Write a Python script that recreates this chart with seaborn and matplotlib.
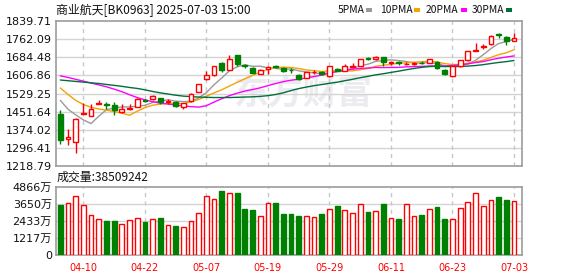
import matplotlib
matplotlib.use("Agg")
import matplotlib.pyplot as plt
from matplotlib.patches import Rectangle
import numpy as np
import pandas as pd
import seaborn as sns

# ---------------- data ----------------
dates = ["04-07", "04-08", "04-09", "04-10", "04-11", "04-14", "04-15", "04-16", "04-17", "04-18",
         "04-21", "04-22", "04-23", "04-24", "04-25", "04-28", "04-29", "04-30", "05-06", "05-07",
         "05-08", "05-09", "05-12", "05-13", "05-14", "05-15", "05-16", "05-19", "05-20", "05-21",
         "05-22", "05-23", "05-26", "05-27", "05-28", "05-29", "05-30", "06-03", "06-04", "06-05",
         "06-06", "06-09", "06-10", "06-11", "06-12", "06-13", "06-16", "06-17", "06-18", "06-19",
         "06-20", "06-23", "06-24", "06-25", "06-26", "06-27", "06-30", "07-01", "07-02", "07-03"]

open_ = [1440, 1333, 1322, 1441, 1433, 1485, 1485, 1482, 1448, 1463,
         1472, 1502, 1505, 1508, 1494, 1494, 1473, 1497, 1537, 1590,
         1607, 1660, 1632, 1694, 1650, 1639, 1614, 1634, 1646, 1637,
         1632, 1608, 1597, 1620, 1621, 1604, 1636, 1627, 1643, 1648,
         1681, 1675, 1684, 1659, 1662, 1654, 1656, 1661, 1661, 1665,
         1630, 1604, 1645, 1672, 1713, 1729, 1741, 1783, 1772, 1756]
high = [1458, 1379, 1426, 1487, 1484, 1501, 1494, 1494, 1484, 1484,
        1508, 1505, 1522, 1512, 1506, 1497, 1490, 1530, 1571, 1625,
        1648, 1662, 1694, 1694, 1656, 1641, 1636, 1645, 1650, 1642,
        1640, 1612, 1621, 1628, 1626, 1647, 1638, 1655, 1661, 1678,
        1687, 1688, 1686, 1667, 1667, 1663, 1665, 1670, 1677, 1668,
        1635, 1646, 1674, 1712, 1744, 1741, 1778, 1789, 1774, 1788]
low = [1312, 1307, 1275, 1440, 1431, 1484, 1465, 1436, 1446, 1458,
       1470, 1493, 1503, 1484, 1484, 1472, 1465, 1494, 1535, 1588,
       1605, 1621, 1630, 1647, 1637, 1616, 1612, 1614, 1638, 1620,
       1618, 1586, 1595, 1613, 1607, 1602, 1624, 1625, 1642, 1645,
       1673, 1673, 1646, 1653, 1650, 1650, 1652, 1654, 1658, 1635,
       1607, 1602, 1642, 1670, 1712, 1720, 1739, 1768, 1739, 1754]
close = [1332, 1343, 1419, 1444, 1465, 1488, 1482, 1458, 1465, 1466,
         1504, 1499, 1519, 1494, 1496, 1475, 1489, 1525, 1569, 1607,
         1646, 1632, 1679, 1654, 1647, 1618, 1632, 1643, 1644, 1627,
         1628, 1590, 1620, 1622, 1611, 1645, 1626, 1645, 1648, 1676,
         1678, 1686, 1665, 1662, 1660, 1657, 1659, 1659, 1675, 1637,
         1612, 1645, 1672, 1711, 1717, 1732, 1776, 1780, 1753, 1767]
# volume in 万
volume = [3561, 3751, 4202, 3608, 2896, 2611, 2398, 2398, 2184, 2469,
          2683, 2350, 2611, 2683, 2113, 2065, 1970, 2398, 3039, 4202,
          4036, 4558, 4463, 4416, 3324, 3205, 2778, 3751, 3703, 2968,
          2920, 2778, 2825, 2754, 2968, 3324, 3490, 3252, 3039, 3680,
          3110, 3181, 3680, 2683, 2611, 3680, 2825, 2849, 3324, 3419,
          2564, 2611, 3395, 3822, 4463, 3537, 3965, 4131, 3917, 3851]

# moving averages before a full window exists
ma5_head = [1500, 1462, 1438, 1416]
ma10_head = [1553, 1525, 1500, 1482, 1470, 1463, 1458, 1452, 1445]
ma20_head = [1605, 1598, 1590, 1582, 1574, 1566, 1558, 1548, 1537, 1524,
             1512, 1502, 1494, 1488, 1484, 1480, 1476, 1473, 1471]
ma30_head = [1587, 1584, 1581, 1578, 1575, 1572, 1568, 1564, 1560, 1555,
             1551, 1545, 1538, 1532, 1527, 1522, 1518, 1516, 1514, 1513,
             1512, 1512, 1512, 1513, 1514, 1515, 1517, 1520, 1525]

price_ticks = [1218.79, 1296.41, 1374.02, 1451.64, 1529.25, 1606.86, 1684.48, 1762.09, 1839.71]
price_labels = ["1218.79", "1296.41", "1374.02", "1451.64", "1529.25", "1606.86", "1684.48", "1762.09", "1839.71"]
vol_ticks = [0, 1217, 2433, 3650, 4866]
vol_labels = ["0", "1217万", "2433万", "3650万", "4866万"]
date_tick_labels = ["04-10", "04-22", "05-07", "05-19", "05-29", "06-11", "06-23", "07-03"]

title = "商业航天[BK0963] 2025-07-03 15:00"
vol_title = "成交量:38509242"
ma_names = ["5PMA", "10PMA", "20PMA", "30PMA"]

# ---------------- style ----------------
sns.set_theme(style="white")
plt.rcParams["font.family"] = ["DejaVu Sans", "Noto Sans CJK SC"]

RED = "#ff0000"
GREEN = "#008000"
MA_COLORS = ["#9a9a9a", "#f5a300", "#ff00ff", "#006f3a"]
GRID = "#d4d4d4"
SPINE = "#9c9c9c"

W, H = 578, 276
fig = plt.figure(figsize=(W / 100, H / 100), dpi=100)

def axrect(l, t, r, b):
    return [l / W, 1 - b / H, (r - l) / W, (b - t) / H]

ax = fig.add_axes(axrect(56, 21, 522, 166))
axv = fig.add_axes(axrect(56, 187, 522, 255))

n = len(close)
idx = np.arange(n)
df = pd.DataFrame({"i": idx, "date": dates, "open": open_, "high": high,
                   "low": low, "close": close, "vol": volume})
up = df["close"] >= df["open"]
df["col"] = np.where(up, RED, GREEN)

xlim = (-0.56, n - 1 + 1.04)
tick_pos = [dates.index(d) for d in date_tick_labels]

# MA lines
heads = [ma5_head, ma10_head, ma20_head, ma30_head]
for win, head, col in zip([5, 10, 20, 30], heads, MA_COLORS):
    ma = df["close"].rolling(win).mean().to_numpy()
    ma[:win - 1] = head
    sns.lineplot(x=idx, y=ma, ax=ax, color=col, lw=1.0, zorder=2)

# watermark
ax.text(0.53, 0.50, "东方财富", transform=ax.transAxes, ha="center", va="center",
        fontsize=25, fontweight="bold", color="#ebebf0", family=["Noto Sans CJK SC"],
        zorder=0.5)

# candles
bw = 0.62
body_lo = np.minimum(df["open"], df["close"])
body_h = np.maximum(np.abs(df["close"] - df["open"]), 0.8)
ax.vlines(df["i"], df["low"], df["high"], colors=df["col"], lw=1.0, zorder=3)
ax.bar(df["i"][up], body_h[up], bottom=body_lo[up], width=bw,
       facecolor="white", edgecolor=RED, lw=1.0, zorder=4)
ax.bar(df["i"][~up], body_h[~up], bottom=body_lo[~up], width=bw,
       facecolor=GREEN, edgecolor=GREEN, lw=1.0, zorder=4)

# volume bars
axv.bar(df["i"][up], df["vol"][up], width=bw, facecolor="white",
        edgecolor=RED, lw=1.0, zorder=3)
axv.bar(df["i"][~up], df["vol"][~up], width=bw, facecolor=GREEN,
        edgecolor=GREEN, lw=1.0, zorder=3)

# axes formatting
for a, yt, yl, ylim in [(ax, price_ticks, price_labels, (price_ticks[0], price_ticks[-1])),
                        (axv, vol_ticks, vol_labels, (0, vol_ticks[-1]))]:
    a.set_xlim(*xlim)
    a.set_ylim(*ylim)
    a.set_yticks(yt)
    a.set_yticklabels(yl)
    a.set_xlabel("")
    a.set_ylabel("")
    for yv in yt[1:-1]:
        a.axhline(yv, color=GRID, lw=1.0, zorder=1)
    for xp in tick_pos:
        a.axvline(xp, color="#c8c8c8", lw=1.0, ls=(0, (3, 3)), zorder=1)
    for s in a.spines.values():
        s.set_color(SPINE)
        s.set_linewidth(1.2)
        s.set_visible(True)
    a.tick_params(axis="y", length=0, pad=3, labelsize=8, labelcolor="#111111")
    a.grid(False)
    a.set_facecolor("white")

ax.set_xticks([])
axv.set_xticks(tick_pos)
axv.set_xticklabels(date_tick_labels)
axv.tick_params(axis="x", length=0, pad=6, labelsize=7, labelcolor=RED)

# titles
cjk = ["Noto Sans CJK SC", "DejaVu Sans"]
fig.text(56 / W, 1 - 10 / H, title, ha="left", va="center", fontsize=8.6, family=cjk, color="#111111")
fig.text(57 / W, 1 - 177 / H, vol_title, ha="left", va="center", fontsize=8.6, family=cjk, color="#111111")

# legend
leg_x = [338, 380, 426, 472]
mark_x = [366, 414, 461, 506]
for name, lx, mx, col in zip(ma_names, leg_x, mark_x, MA_COLORS):
    fig.text(lx / W, 1 - 10 / H, name, ha="left", va="center", fontsize=7.4, family=cjk, color="#111111")
    fig.patches.append(Rectangle((mx / W, 1 - 11.5 / H), 6 / W, 3 / H, transform=fig.transFigure,
                                 facecolor=col, edgecolor="none"))

fig.savefig("out.png", dpi=100, facecolor="white")
